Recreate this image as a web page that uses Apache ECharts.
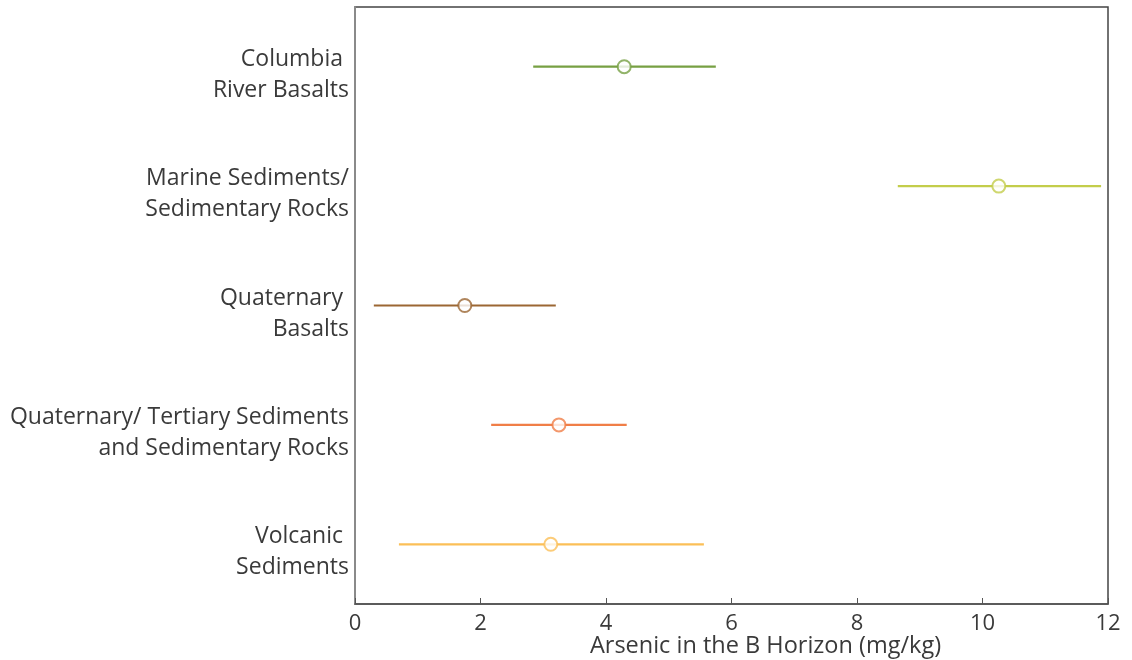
<!DOCTYPE html>
<html>
<head>
<meta charset="utf-8">
<script src="https://cdn.jsdelivr.net/npm/echarts@6/dist/echarts.min.js"></script>
<style>
  html, body { margin: 0; padding: 0; background: #fff; }
  #chart { width: 1132px; height: 660px; }
</style>
</head>
<body>
<div id="chart"></div>
<script>
// Rock units (top to bottom) and arsenic in the B horizon, mg/kg
const categories = [
  'Columbia \nRiver Basalts',
  'Marine Sediments/\nSedimentary Rocks',
  'Quaternary \nBasalts',
  'Quaternary/ Tertiary Sediments\nand Sedimentary Rocks',
  'Volcanic \nSediments'
];
const centers = [4.29, 10.26, 1.75, 3.25, 3.12];
const lows    = [2.84, 8.65, 0.30, 2.17, 0.70];
const highs   = [5.75, 11.89, 3.20, 4.33, 5.56];
const colors  = ['#77a043', '#c3cd4b', '#9b6733', '#f07e47', '#fbbf57'];
const xTicks  = [0, 2, 4, 6, 8, 10, 12];

const FONT = 'Open Sans';

const chart = echarts.init(document.getElementById('chart'));

const rangeData = categories.map((c, i) => [lows[i], highs[i], i]);
const pointData = categories.map((c, i) => ({
  value: [centers[i], i],
  itemStyle: { color: '#ffffff', borderColor: colors[i], borderWidth: 2 }
}));

// a thin spacer line on top nudges each two-line label a little below its row centre
function formatCategory(label) {
  return '{g| }\n' + label.split('\n').map(s => '{t|' + s + '}').join('\n');
}

chart.setOption({
  animation: false,
  grid: {
    left: 355, right: 24, top: 7, bottom: 56,
    outerBoundsMode: 'none',
    containLabel: false,
    show: true, borderColor: '#444444', borderWidth: 1.5,
    backgroundColor: 'transparent'
  },
  xAxis: {
    type: 'value',
    min: xTicks[0], max: xTicks[xTicks.length - 1], interval: 2,
    splitLine: { show: false },
    axisLine: { show: true, lineStyle: { color: '#555555', width: 1.5 } },
    axisTick: { show: true, inside: true, length: 6, lineStyle: { color: '#555555' } },
    axisLabel: { color: '#3a3a3a', fontFamily: FONT, fontSize: 22, margin: 9 },
    name: 'Arsenic in the B Horizon (mg/kg)',
    nameLocation: 'middle',
    nameMoveOverlap: false,
    nameGap: 30,
    nameTextStyle: {
      color: '#3a3a3a', fontFamily: FONT, fontSize: 23.5,
      verticalAlign: 'top', padding: [0, 0, 0, 68]
    }
  },
  yAxis: {
    type: 'category',
    data: categories,
    inverse: true,
    axisLine: { show: true, lineStyle: { color: '#8a8a8a', width: 2 } },
    axisTick: { show: false },
    splitLine: { show: false },
    axisLabel: {
      margin: 6, align: 'right',
      formatter: formatCategory,
      rich: {
        g: { fontSize: 1, lineHeight: 16 },
        t: { color: '#3a3a3a', fontFamily: FONT, fontSize: 23, lineHeight: 31, align: 'right' }
      }
    }
  },
  series: [
    {
      type: 'custom',
      data: rangeData,
      encode: { x: [0, 1], y: 2 },
      renderItem: function (params, api) {
        const i = api.value(2);
        const a = api.coord([api.value(0), i]);
        const b = api.coord([api.value(1), i]);
        return {
          type: 'line',
          shape: { x1: a[0], y1: a[1], x2: b[0], y2: b[1] },
          style: { stroke: colors[i], lineWidth: 2.2 }
        };
      },
      z: 2
    },
    {
      type: 'scatter',
      data: pointData,
      symbol: 'circle',
      symbolSize: 13,
      z: 3
    }
  ]
});
</script>
</body>
</html>
